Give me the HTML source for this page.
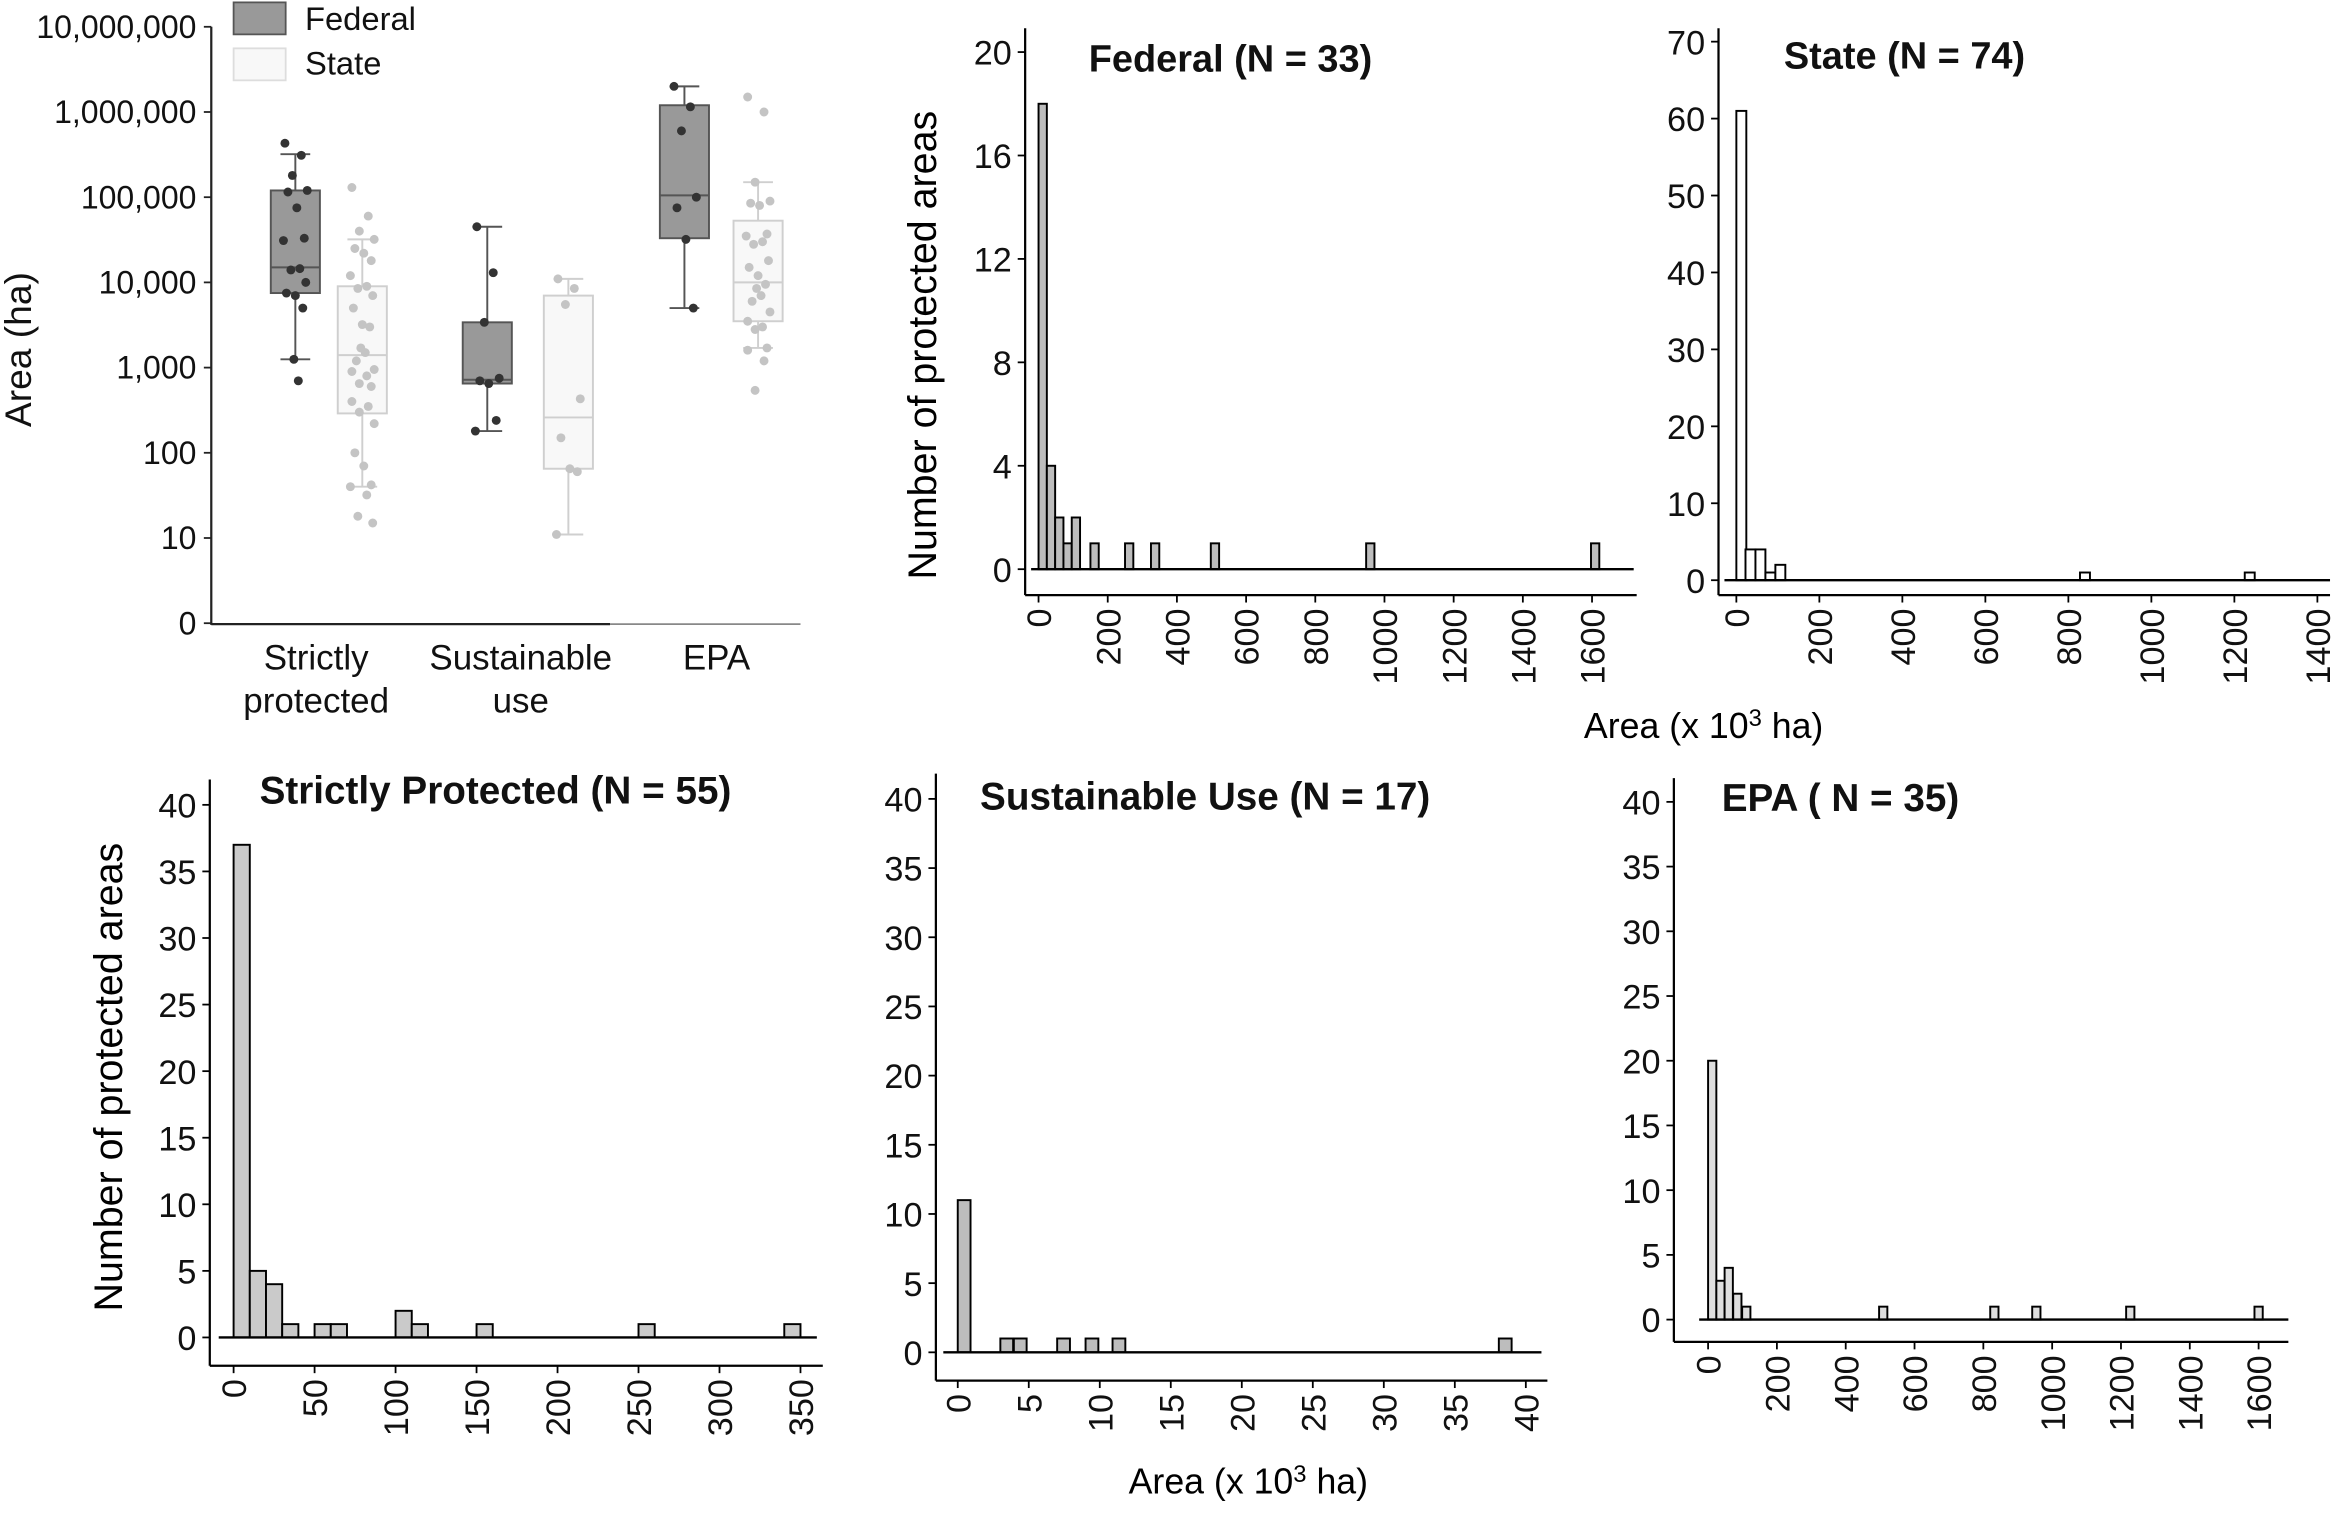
<!DOCTYPE html>
<html><head><meta charset="utf-8"><style>
html,body{margin:0;padding:0;background:#fff}
svg{display:block;font-family:"Liberation Sans",Arial,sans-serif}
</style></head><body>
<svg id="fig" width="2333" height="1513" viewBox="0 0 1568 1017" preserveAspectRatio="none" xmlns="http://www.w3.org/2000/svg">
<rect width="1568" height="1017" fill="#fff"/>
<g id="boxplot"></g>
<g id="hists"></g>
<text x="1145" y="496" font-size="24" text-anchor="middle">Area (x 10<tspan font-size="16" dy="-8">3</tspan><tspan dy="8"> ha)</tspan></text>
<text x="839" y="1004" font-size="24" text-anchor="middle">Area (x 10<tspan font-size="16" dy="-8">3</tspan><tspan dy="8"> ha)</tspan></text>
<text transform="translate(629,232) rotate(-90)" font-size="26.5" text-anchor="middle">Number  of protected areas</text>
<text transform="translate(82,724) rotate(-90)" font-size="26.5" text-anchor="middle">Number  of protected areas</text>
</svg>
<script>
// ---------- Box plot data (ha) ----------
const boxCategories = ["Strictly protected", "Sustainable use", "EPA"];
const fedWhiskLow = [1250, 180, 5000];
const fedQ1 = [7500, 650, 33000];
const fedMedian = [15000, 720, 105000];
const fedQ3 = [120000, 3400, 1200000];
const fedWhiskHigh = [320000, 45000, 2000000];
const stateWhiskLow = [40, 11, 1700];
const stateQ1 = [290, 65, 3500];
const stateMedian = [1400, 260, 10000];
const stateQ3 = [9000, 7000, 53000];
const stateWhiskHigh = [32000, 11000, 150000];
const fedPointsStrict = [430000, 310000, 180000, 120000, 115000, 75000, 33000, 31000, 14500, 14000, 10000, 7500, 7000, 5000, 1250, 700];
const fedPointsSust = [45000, 13000, 3400, 750, 700, 650, 240, 180];
const fedPointsEPA = [2000000, 1150000, 600000, 100000, 75000, 32000, 5000];
const statePointsStrict = [130000, 60000, 40000, 32000, 25000, 22000, 18000, 12000, 9000, 8500, 7000, 5000, 3200, 3000, 1700, 1500, 1200, 950, 900, 800, 650, 600, 400, 350, 300, 220, 100, 70, 42, 40, 32, 18, 15];
const statePointsSust = [11000, 8500, 5500, 430, 150, 65, 60, 11];
const statePointsEPA = [1500000, 1000000, 150000, 90000, 85000, 80000, 37000, 35000, 30000, 28000, 18000, 15000, 12000, 9500, 8500, 7000, 6000, 4500, 3500, 3000, 2800, 1700, 1600, 1200, 540];
const logTickValues = [1, 10, 100, 1000, 10000, 100000, 1000000, 10000000];
const logTickLabels = ["0", "10", "100", "1,000", "10,000", "100,000", "1,000,000", "10,000,000"];

// ---------- Histogram data (x 10^3 ha) ----------
const fedBinStarts = [0, 24, 48, 72, 96, 150, 250, 325, 498, 947, 1597];
const fedCounts = [18, 4, 2, 1, 2, 1, 1, 1, 1, 1, 1];
const stateBinStarts = [0, 22, 46, 70, 94, 828, 1225];
const stateCounts = [61, 4, 4, 1, 2, 1, 1];
const strictBinStarts = [0, 10, 20, 30, 50, 60, 100, 110, 150, 250, 340];
const strictCounts = [37, 5, 4, 1, 1, 1, 2, 1, 1, 1, 1];
const sustBinStarts = [0, 3, 3.95, 7, 9, 10.9, 38.1];
const sustCounts = [11, 1, 1, 1, 1, 1, 1];
const epaBinStarts = [0, 24, 48, 73, 99, 497, 820, 942, 1215, 1588];
const epaCounts = [20, 3, 4, 2, 1, 1, 1, 1, 1, 1];
const fedYTicks = [0, 4, 8, 12, 16, 20];
const stateYTicks = [0, 10, 20, 30, 40, 50, 60, 70];
const bottomYTicks = [0, 5, 10, 15, 20, 25, 30, 35, 40];
const xTicks1600 = [0, 200, 400, 600, 800, 1000, 1200, 1400, 1600];
const xTicks1400 = [0, 200, 400, 600, 800, 1000, 1200, 1400];
const xTicks350 = [0, 50, 100, 150, 200, 250, 300, 350];
const xTicks40 = [0, 5, 10, 15, 20, 25, 30, 35, 40];

const NS = "http://www.w3.org/2000/svg";
function mk(parent, tag, attrs, text) {
  const e = document.createElementNS(NS, tag);
  for (const k in attrs) e.setAttribute(k, attrs[k]);
  if (text !== undefined) e.textContent = text;
  parent.appendChild(e);
  return e;
}

// ---------- Box plot ----------
const bp = document.getElementById('boxplot');
const yLog = v => 418.9 - Math.log10(v) * 57.27;
const AX = 142;
let l = mk(bp, 'line', {x1: AX, y1: 18, x2: AX, y2: 420, stroke: '#222', 'stroke-width': 1.5});


l = mk(bp, 'line', {x1: AX, y1: 419.5, x2: 410, y2: 419.5, stroke: '#222', 'stroke-width': 1.5});


l = mk(bp, 'line', {x1: 410, y1: 419.5, x2: 538, y2: 419.5, stroke: '#888', 'stroke-width': 1.2});


logTickValues.forEach((v, i) => {
  const y = yLog(v);
  const t = mk(bp, 'line', {x1: AX - 5, y1: y, x2: AX, y2: y, stroke: '#222', 'stroke-width': 1.2});
  
  
  const tx = mk(bp, 'text', {x: 132, y: y + 7.5, 'font-size': 21.5, 'text-anchor': 'end', fill: '#111'}, logTickLabels[i]);
  
  
});
let yt = mk(bp, 'text', {transform: 'translate(21,235) rotate(-90)', 'font-size': 25, 'text-anchor': 'middle', fill: '#111'}, 'Area (ha)');


const catCenters = [212.5, 350, 481.6];
const catLines = [["Strictly", "protected"], ["Sustainable", "use"], ["EPA"]];
catLines.forEach((ls, i) => {
  ls.forEach((s, j) => {
    const tx = mk(bp, 'text', {x: catCenters[i], y: 450 + j * 29, 'font-size': 23.5, 'text-anchor': 'middle', fill: '#111'}, s);
    
    
  });
});
// legend
let lg = mk(bp, 'rect', {x: 157, y: 1.6, width: 35, height: 21.5, fill: '#999', stroke: '#555', 'stroke-width': 1.2});


lg = mk(bp, 'text', {x: 205, y: 20, 'font-size': 22, fill: '#111'}, 'Federal');


lg = mk(bp, 'rect', {x: 157, y: 32.5, width: 35, height: 21.5, fill: '#f8f8f8', stroke: '#ddd', 'stroke-width': 1.2});


lg = mk(bp, 'text', {x: 205, y: 50, 'font-size': 22, fill: '#111'}, 'State');



const jitter = [-7, 4, -2, 8, -5, 1, 6, -8, 3, -3, 7, -6, 0, 5, -1, 2, -4, 8, -7, 3, -2, 6];
function drawBox(cx, lo, q1, med, q3, hi, pts, fill, stroke, ptColor, name) {
  const g = mk(bp, 'g', {});
  
  
  const w = 33;
  let e = mk(g, 'line', {x1: cx, y1: yLog(hi), x2: cx, y2: yLog(lo), stroke: stroke, 'stroke-width': 1.3});
  
  
  [hi, lo].forEach(v => {
    const c = mk(g, 'line', {x1: cx - 10, y1: yLog(v), x2: cx + 10, y2: yLog(v), stroke: stroke, 'stroke-width': 1.3});
    
    
  });
  e = mk(g, 'rect', {x: cx - w / 2, y: yLog(q3), width: w, height: yLog(q1) - yLog(q3), fill: fill, stroke: stroke, 'stroke-width': 1.3});
  
  
  e = mk(g, 'line', {x1: cx - w / 2, y1: yLog(med), x2: cx + w / 2, y2: yLog(med), stroke: stroke, 'stroke-width': 1.3});
  
  
  pts.forEach((v, i) => {
    const p = mk(g, 'circle', {cx: cx + jitter[i % jitter.length], cy: yLog(v), r: 3, fill: ptColor});
    
    
  });
}
const fedX = [198.5, 327.5, 460];
const stateX = [243.5, 382, 509.5];
const fedPts = [fedPointsStrict, fedPointsSust, fedPointsEPA];
const statePts = [statePointsStrict, statePointsSust, statePointsEPA];
boxCategories.forEach((c, i) => {
  drawBox(fedX[i], fedWhiskLow[i], fedQ1[i], fedMedian[i], fedQ3[i], fedWhiskHigh[i], fedPts[i], '#999', '#555', '#333', 'federal-box-' + i);
  drawBox(stateX[i], stateWhiskLow[i], stateQ1[i], stateMedian[i], stateQ3[i], stateWhiskHigh[i], statePts[i], '#f8f8f8', '#cfcfcf', '#c4c4c4', 'state-box-' + i);
});

// ---------- Histograms ----------
const hs = document.getElementById('hists');
function drawHist(cfg) {
  const g = mk(hs, 'g', {});
  
  
  const xs = v => cfg.x0 + (v - cfg.xMin) / (cfg.xMax - cfg.xMin) * (cfg.x1 - cfg.x0);
  const ys = v => cfg.y0 + (v - cfg.yMin) / (cfg.yMax - cfg.yMin) * (cfg.y1 - cfg.y0);
  let e = mk(g, 'line', {x1: cfg.axX, y1: cfg.axTop, x2: cfg.axX, y2: cfg.axBot, stroke: '#000', 'stroke-width': 1.5});
  
  
  e = mk(g, 'line', {x1: cfg.axX, y1: cfg.axBot, x2: cfg.axRight, y2: cfg.axBot, stroke: '#000', 'stroke-width': 1.5});
  
  
  cfg.yTicks.forEach(v => {
    const t = mk(g, 'line', {x1: cfg.axX - 5, y1: ys(v), x2: cfg.axX, y2: ys(v), stroke: '#000', 'stroke-width': 1.2});
    
    
    const tx = mk(g, 'text', {x: cfg.axX - 9, y: ys(v) + 8.5, 'font-size': 23, 'text-anchor': 'end', fill: '#111'}, String(v));
    
    
  });
  cfg.xTicks.forEach(v => {
    const x = xs(v);
    const t = mk(g, 'line', {x1: x, y1: cfg.axBot, x2: x, y2: cfg.axBot + 5, stroke: '#000', 'stroke-width': 1.2});
    
    
    const yy = cfg.axBot + 9;
    const tx = mk(g, 'text', {x: x + 8.5, y: yy, 'font-size': 23, 'text-anchor': 'end', fill: '#111', transform: `rotate(-90 ${x + 8.5} ${yy})`}, String(v));
    
    
  });
  cfg.starts.forEach((s, i) => {
    const r = mk(g, 'rect', {x: xs(s), y: ys(cfg.counts[i]), width: xs(s + cfg.bw) - xs(s), height: ys(0) - ys(cfg.counts[i]), fill: cfg.fill, stroke: '#000', 'stroke-width': 1.3});
    
    
  });
  e = mk(g, 'line', {x1: cfg.baseL, y1: ys(0), x2: cfg.baseR, y2: ys(0), stroke: '#000', 'stroke-width': 1.6});
  
  
  e = mk(g, 'text', {x: cfg.tx, y: cfg.ty, 'font-size': cfg.tfs, 'font-weight': 'bold', 'text-anchor': 'middle', fill: '#111'}, cfg.title);
  
  
}
drawHist({name: 'federal-histogram', title: 'Federal (N = 33)', tx: 827, ty: 48, tfs: 25.5, starts: fedBinStarts, counts: fedCounts, bw: 24, fill: '#bdbdbd',
  xMin: 0, xMax: 1600, x0: 698, x1: 1070, yMin: 0, yMax: 20, y0: 382.6, y1: 35, yTicks: fedYTicks, xTicks: xTicks1600,
  axX: 689, axTop: 19, axBot: 400, axRight: 1100, baseL: 693, baseR: 1098});
drawHist({name: 'state-histogram', title: 'State (N = 74)', tx: 1280, ty: 46, tfs: 25.5, starts: stateBinStarts, counts: stateCounts, bw: 24, fill: '#fff',
  xMin: 0, xMax: 1400, x0: 1167, x1: 1557.5, yMin: 0, yMax: 70, y0: 390, y1: 28, yTicks: stateYTicks, xTicks: xTicks1400,
  axX: 1155, axTop: 19, axBot: 400, axRight: 1566, baseL: 1159, baseR: 1566});
drawHist({name: 'strictly-protected-histogram', title: 'Strictly  Protected (N = 55)', tx: 333, ty: 540, tfs: 26, starts: strictBinStarts, counts: strictCounts, bw: 10, fill: '#cacaca',
  xMin: 0, xMax: 350, x0: 157, x1: 538, yMin: 0, yMax: 40, y0: 899, y1: 541, yTicks: bottomYTicks, xTicks: xTicks350,
  axX: 141, axTop: 524, axBot: 918, axRight: 553, baseL: 147, baseR: 549});
drawHist({name: 'sustainable-use-histogram', title: 'Sustainable Use (N = 17)', tx: 810, ty: 544, tfs: 26, starts: sustBinStarts, counts: sustCounts, bw: 0.9, fill: '#bdbdbd',
  xMin: 0, xMax: 40, x0: 643.7, x1: 1025.5, yMin: 0, yMax: 40, y0: 909, y1: 537, yTicks: bottomYTicks, xTicks: xTicks40,
  axX: 629, axTop: 520, axBot: 928, axRight: 1040, baseL: 634, baseR: 1036});
drawHist({name: 'epa-histogram', title: 'EPA ( N = 35)', tx: 1237, ty: 545, tfs: 26, starts: epaBinStarts, counts: epaCounts, bw: 24, fill: '#dedede',
  xMin: 0, xMax: 1600, x0: 1148, x1: 1518, yMin: 0, yMax: 40, y0: 887, y1: 539, yTicks: bottomYTicks, xTicks: xTicks1600,
  axX: 1125, axTop: 523, axBot: 902, axRight: 1538, baseL: 1142, baseR: 1538});
</script>
</body></html>
